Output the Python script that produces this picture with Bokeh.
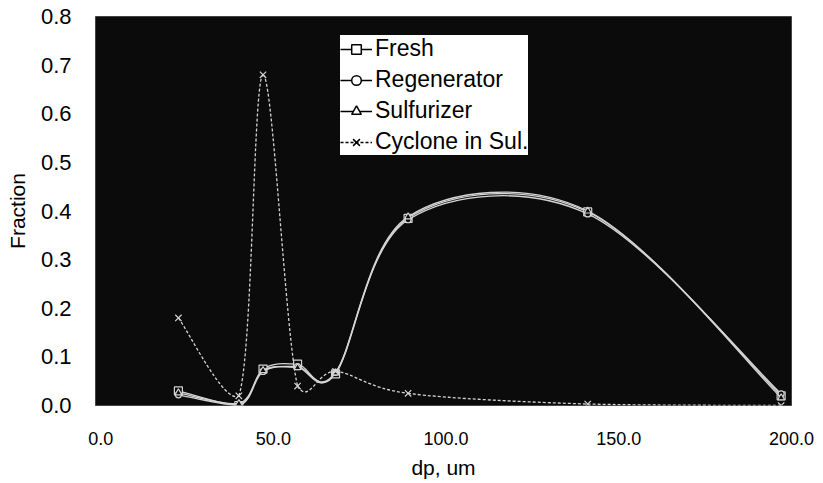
from bokeh.plotting import figure
from bokeh.models import (Range1d, Legend, LegendItem, ColumnDataSource, FixedTicker,
                          NumeralTickFormatter)
from bokeh.embed import file_html
from bokeh.resources import INLINE

# ---- data ----
dp = [22.5, 40.0, 47.0, 57.0, 68.0, 89.0, 141.0, 197.0]
fresh = [0.030, 0.000, 0.075, 0.085, 0.065, 0.385, 0.398, 0.020]
regenerator = [0.022, 0.000, 0.070, 0.080, 0.068, 0.382, 0.394, 0.024]
sulfurizer = [0.026, 0.004, 0.072, 0.078, 0.067, 0.388, 0.400, 0.016]
cyclone = [0.180, 0.020, 0.680, 0.040, 0.070, 0.025, 0.003, 0.000]

series_names = ["Fresh", "Regenerator", "Sulfurizer", "Cyclone in Sul."]
x_ticks = [0, 50, 100, 150, 200]
y_ticks = [0.0, 0.1, 0.2, 0.3, 0.4, 0.5, 0.6, 0.7, 0.8]

FONT = "Liberation Sans"


def smooth_segments(xs, ys, k=1.0 / 6.0):
    """Excel-like smoothed line: cubic Bezier control points from neighbours."""
    n = len(xs)
    out = dict(x0=[], y0=[], x1=[], y1=[], cx0=[], cy0=[], cx1=[], cy1=[])
    for i in range(n - 1):
        ip = max(i - 1, 0)
        inn = min(i + 2, n - 1)
        out["x0"].append(xs[i]); out["y0"].append(ys[i])
        out["x1"].append(xs[i + 1]); out["y1"].append(ys[i + 1])
        out["cx0"].append(xs[i] + (xs[i + 1] - xs[ip]) * k)
        out["cy0"].append(max(ys[i] + (ys[i + 1] - ys[ip]) * k, 0.0))
        out["cx1"].append(xs[i + 1] - (xs[inn] - xs[i]) * k)
        out["cy1"].append(max(ys[i + 1] - (ys[inn] - ys[i]) * k, 0.0))
    return ColumnDataSource(out)


p = figure(width=820, height=482,
           x_range=Range1d(-1.5, 200), y_range=Range1d(0, 0.8),
           output_backend="svg", toolbar_location=None,
           min_border_left=95, min_border_right=29,
           min_border_top=16, min_border_bottom=77)
# a far-away range used only by the black legend proxies (never visible in the frame)
p.extra_x_ranges = {"legend_only": Range1d(10000, 10001)}

BG = "#0b0b0b"
p.background_fill_color = BG
p.border_fill_color = "white"
p.outline_line_color = "#444444"
p.grid.visible = False

for ax in (p.xaxis[0], p.yaxis[0]):
    ax.axis_line_color = None
    ax.major_tick_line_color = None
    ax.minor_tick_line_color = None
    ax.major_label_text_font = FONT
    ax.axis_label_text_font = FONT
    ax.axis_label_text_font_style = "normal"
    ax.major_label_text_color = "black"
    ax.axis_label_text_color = "black"

p.xaxis.ticker = FixedTicker(ticks=x_ticks)
p.yaxis.ticker = FixedTicker(ticks=y_ticks)
p.xaxis.formatter = NumeralTickFormatter(format="0.0")
p.yaxis.formatter = NumeralTickFormatter(format="0.0")
p.xaxis.major_label_text_font_size = "18px"
p.yaxis.major_label_text_font_size = "22px"
p.xaxis.major_label_standoff = 20
p.yaxis.major_label_standoff = 18
p.xaxis.axis_label = "dp, um"
p.yaxis.axis_label = "Fraction"
p.xaxis.axis_label_text_font_size = "21px"
p.yaxis.axis_label_text_font_size = "21px"
p.xaxis.axis_label_standoff = 8
p.yaxis.axis_label_standoff = 9

plot_color = "#d4d4d4"
styles = [
    (fresh, "square", 8, "solid"),
    (regenerator, "circle", 6, "solid"),
    (sulfurizer, "triangle", 7, "solid"),
    (cyclone, "x", 9, "3 2"),
]

items = []
for name, (ys, marker, size, dash) in zip(series_names, styles):
    src = smooth_segments(dp, ys)
    p.bezier(x0="x0", y0="y0", x1="x1", y1="y1", cx0="cx0", cy0="cy0",
             cx1="cx1", cy1="cy1", source=src, line_color=plot_color,
             line_width=1.3, line_dash=dash)
    p.scatter(dp, ys, marker=marker, size=size, line_color=plot_color,
              fill_color=BG, line_width=1.2)
    # legend proxies in black: same data, mapped on the far-away range
    proxy_src = ColumnDataSource(dict(x=dp, y=ys))
    lg_line = p.line("x", "y", source=proxy_src, x_range_name="legend_only",
                     line_color="black", line_width=1.5, line_dash=dash)
    lg_mark = p.scatter("x", "y", source=proxy_src, x_range_name="legend_only",
                        marker=marker, size=size - 2, line_color="black",
                        fill_color="white", line_width=1.5)
    items.append(LegendItem(label=name, renderers=[lg_line, lg_mark]))

legend = Legend(items=items, location=(245, 250))
legend.background_fill_color = "white"
legend.background_fill_alpha = 1.0
legend.border_line_color = None
legend.label_text_font = FONT
legend.label_text_font_size = "23px"
legend.label_text_color = "black"
legend.glyph_width = 32
legend.glyph_height = 24
legend.label_height = 24
legend.label_standoff = 3
legend.spacing = 4
legend.padding = 6
legend.margin = 0
p.add_layout(legend, "center")

open("out.html", "w").write(file_html(p, INLINE))
